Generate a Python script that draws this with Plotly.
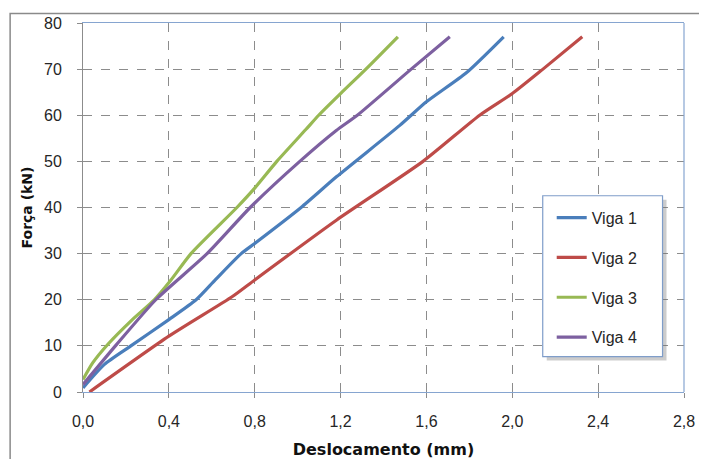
import plotly.graph_objects as go

# ---- data ----
viga1_x = [0.0, 0.1, 0.223, 0.4, 0.527, 0.616, 0.737, 0.8, 1.016, 1.182, 1.476, 1.6, 1.786, 1.96]
viga1_y = [0.9, 6.0, 10.0, 15.7, 20.0, 24.3, 30.0, 32.2, 40.0, 46.7, 57.8, 62.9, 69.2, 77.0]

viga2_x = [0.03, 0.4, 0.696, 0.8, 1.182, 1.584, 1.848, 2.0, 2.143, 2.326]
viga2_y = [0.0, 12.1, 20.7, 24.3, 37.3, 50.0, 60.0, 64.7, 70.0, 77.0]

viga3_x = [0.0, 0.045, 0.115, 0.23, 0.332, 0.41, 0.503, 0.717, 0.8, 0.903, 1.038, 1.098, 1.2, 1.318, 1.467]
viga3_y = [2.7, 6.3, 10.3, 15.7, 20.0, 24.3, 30.0, 40.0, 44.2, 50.0, 56.9, 60.0, 64.7, 70.0, 77.0]

viga4_x = [0.0, 0.153, 0.339, 0.578, 0.779, 1.01, 1.18, 1.278, 1.529, 1.709]
viga4_y = [1.6, 10.1, 20.0, 30.0, 40.0, 50.0, 56.7, 60.0, 70.0, 77.0]

series_names = ["Viga 1", "Viga 2", "Viga 3", "Viga 4"]
series_x = [viga1_x, viga2_x, viga3_x, viga4_x]
series_y = [viga1_y, viga2_y, viga3_y, viga4_y]
colors = ["#4A7EBB", "#BE4B48", "#98B954", "#7D60A0"]

x_ticks = [0.0, 0.4, 0.8, 1.2, 1.6, 2.0, 2.4, 2.8]
x_ticklabels = ["0,0", "0,4", "0,8", "1,2", "1,6", "2,0", "2,4", "2,8"]
y_ticks = [0, 10, 20, 30, 40, 50, 60, 70, 80]

fig = go.Figure()
for name, xs, ys, c in zip(series_names, series_x, series_y, colors):
    fig.add_trace(go.Scatter(
        x=xs, y=ys, mode="lines", name=name, legendgroup=name,
        line=dict(color=c, width=3.2, shape="spline", smoothing=0.6),
    ))

# the page body has an 8px default margin: compensate so the figure fills the window
OFF = 8
W, H = 707 - OFF, 459 - OFF
L, R, T, B = 82.5 - OFF, 22.5, 23 - OFF, 66.5
pw, ph = W - L - R, H - T - B

def px_to_paper_x(px):  # px in window coordinates
    return (px - OFF - L) / pw

def px_to_paper_y(py):
    return (H - B - (py - OFF)) / ph

tick_font = dict(family="Liberation Sans, Arial, sans-serif", size=16, color="#262626")
grid_col = "#8C8C8C"
border_blue = "#86A5D0"

fig.update_layout(
    width=W, height=H,
    margin=dict(l=L, r=R, t=T, b=B, pad=0),
    paper_bgcolor="white", plot_bgcolor="white",
    separators=",.",
    showlegend=True,
    legend=dict(
        x=px_to_paper_x(552), y=px_to_paper_y(201), xanchor="left", yanchor="top",
        bgcolor="rgba(0,0,0,0)", borderwidth=0,
        font=dict(family="Liberation Sans, Arial, sans-serif", size=16, color="#262626"),
        tracegroupgap=16, itemwidth=30,
    ),
    xaxis=dict(
        range=[0, 2.8], tickvals=x_ticks, ticktext=x_ticklabels, automargin=False,
        showgrid=True, gridcolor=grid_col, griddash="dash", gridwidth=1,
        showline=True, linecolor=border_blue, linewidth=1, mirror=True,
        ticks="outside", ticklen=5, tickcolor=grid_col, tickwidth=1,
        tickfont=tick_font, zeroline=False, ticklabelstandoff=10,
        title=dict(text="<b>Deslocamento (mm)</b>",
                   font=dict(family="DejaVu Sans, sans-serif", size=16, color="#111111"),
                   standoff=15),
    ),
    yaxis=dict(
        range=[0, 80], tickvals=y_ticks, automargin=False,
        showgrid=True, gridcolor=grid_col, griddash="dash", gridwidth=1,
        showline=True, linecolor=grid_col, linewidth=1,
        ticks="outside", ticklen=5, tickcolor=grid_col, tickwidth=1,
        tickfont=tick_font, zeroline=False, ticklabelstandoff=12,
        title=dict(text="<b>Força (kN)</b>",
                   font=dict(family="DejaVu Sans, sans-serif", size=14, color="#111111"),
                   standoff=8),
    ),
    shapes=[
        dict(type="line", xref="paper", yref="paper", x0=1, x1=1, y0=0, y1=1,
             line=dict(color=border_blue, width=1.2), layer="above"),
        dict(type="rect", xref="paper", yref="paper",
             x0=px_to_paper_x(9.5), x1=px_to_paper_x(760),
             y0=px_to_paper_y(520), y1=px_to_paper_y(13.5),
             line=dict(color="#8A8A8A", width=1.5), layer="below"),
        dict(type="rect", xref="paper", yref="paper",
             x0=px_to_paper_x(547), x1=px_to_paper_x(667),
             y0=px_to_paper_y(361), y1=px_to_paper_y(200),
             line=dict(width=0), fillcolor="rgba(110,110,110,0.35)", layer="above"),
        dict(type="rect", xref="paper", yref="paper",
             x0=px_to_paper_x(543), x1=px_to_paper_x(663),
             y0=px_to_paper_y(357), y1=px_to_paper_y(196),
             line=dict(color="#7F9DC9", width=1.2), fillcolor="white", layer="above"),
    ],
)

fig.write_html("out.html")
